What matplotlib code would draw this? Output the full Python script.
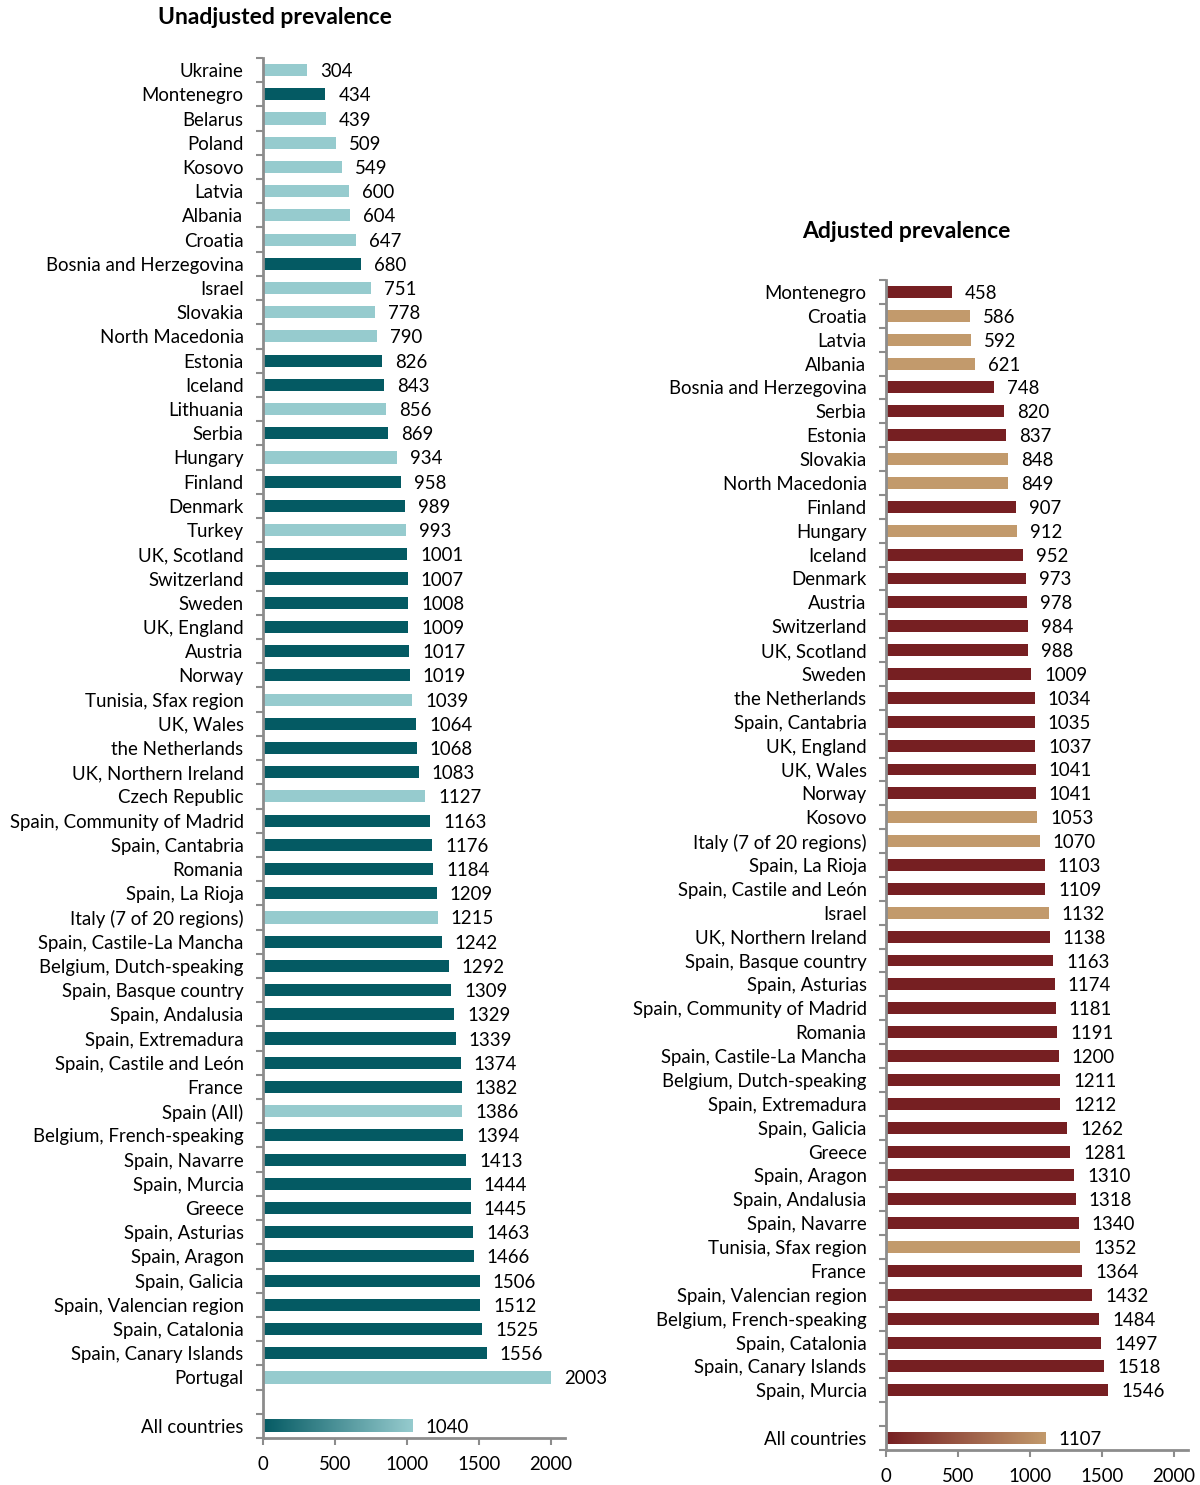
import numpy as np
import matplotlib
matplotlib.use('Agg')
import matplotlib.pyplot as plt
from matplotlib.colors import LinearSegmentedColormap
from matplotlib.ticker import FixedLocator

plt.rcParams['font.family'] = ['Lato', 'DejaVu Sans']

# unadjusted prevalence (left panel)
unadj_names = ['Ukraine', 'Montenegro', 'Belarus', 'Poland', 'Kosovo', 'Latvia', 'Albania', 'Croatia',
               'Bosnia and Herzegovina', 'Israel', 'Slovakia', 'North Macedonia', 'Estonia', 'Iceland',
               'Lithuania', 'Serbia', 'Hungary', 'Finland', 'Denmark', 'Turkey', 'UK, Scotland',
               'Switzerland', 'Sweden', 'UK, England', 'Austria', 'Norway', 'Tunisia, Sfax region',
               'UK, Wales', 'the Netherlands', 'UK, Northern Ireland', 'Czech Republic',
               'Spain, Community of Madrid', 'Spain, Cantabria', 'Romania', 'Spain, La Rioja',
               'Italy (7 of 20 regions)', 'Spain, Castile-La Mancha', 'Belgium, Dutch-speaking',
               'Spain, Basque country', 'Spain, Andalusia', 'Spain, Extremadura', 'Spain, Castile and León',
               'France', 'Spain (All)', 'Belgium, French-speaking', 'Spain, Navarre', 'Spain, Murcia',
               'Greece', 'Spain, Asturias', 'Spain, Aragon', 'Spain, Galicia', 'Spain, Valencian region',
               'Spain, Catalonia', 'Spain, Canary Islands', 'Portugal']
unadj_vals = [304, 434, 439, 509, 549, 600, 604, 647, 680, 751, 778, 790, 826, 843, 856, 869, 934, 958,
              989, 993, 1001, 1007, 1008, 1009, 1017, 1019, 1039, 1064, 1068, 1083, 1127, 1163, 1176,
              1184, 1209, 1215, 1242, 1292, 1309, 1329, 1339, 1374, 1382, 1386, 1394, 1413, 1444, 1445,
              1463, 1466, 1506, 1512, 1525, 1556, 2003]
# 1 = dark bar, 0 = light bar
unadj_dark = [0, 1, 0, 0, 0, 0, 0, 0, 1, 0, 0, 0, 1, 1, 0, 1, 0, 1, 1, 0, 1, 1, 1, 1, 1, 1, 0, 1, 1, 1,
              0, 1, 1, 1, 1, 0, 1, 1, 1, 1, 1, 1, 1, 0, 1, 1, 1, 1, 1, 1, 1, 1, 1, 1, 0]
unadj_all = 1040

# adjusted prevalence (right panel)
adj_names = ['Montenegro', 'Croatia', 'Latvia', 'Albania', 'Bosnia and Herzegovina', 'Serbia', 'Estonia',
             'Slovakia', 'North Macedonia', 'Finland', 'Hungary', 'Iceland', 'Denmark', 'Austria',
             'Switzerland', 'UK, Scotland', 'Sweden', 'the Netherlands', 'Spain, Cantabria', 'UK, England',
             'UK, Wales', 'Norway', 'Kosovo', 'Italy (7 of 20 regions)', 'Spain, La Rioja',
             'Spain, Castile and León', 'Israel', 'UK, Northern Ireland', 'Spain, Basque country',
             'Spain, Asturias', 'Spain, Community of Madrid', 'Romania', 'Spain, Castile-La Mancha',
             'Belgium, Dutch-speaking', 'Spain, Extremadura', 'Spain, Galicia', 'Greece', 'Spain, Aragon',
             'Spain, Andalusia', 'Spain, Navarre', 'Tunisia, Sfax region', 'France', 'Spain, Valencian region',
             'Belgium, French-speaking', 'Spain, Catalonia', 'Spain, Canary Islands', 'Spain, Murcia']
adj_vals = [458, 586, 592, 621, 748, 820, 837, 848, 849, 907, 912, 952, 973, 978, 984, 988, 1009, 1034,
            1035, 1037, 1041, 1041, 1053, 1070, 1103, 1109, 1132, 1138, 1163, 1174, 1181, 1191, 1200,
            1211, 1212, 1262, 1281, 1310, 1318, 1340, 1352, 1364, 1432, 1484, 1497, 1518, 1546]
adj_dark = [1, 0, 0, 0, 1, 1, 1, 0, 0, 1, 0, 1, 1, 1, 1, 1, 1, 1, 1, 1, 1, 1, 0, 0, 1, 1, 0, 1, 1, 1,
            1, 1, 1, 1, 1, 1, 1, 1, 1, 1, 0, 1, 1, 1, 1, 1, 1]
adj_all = 1107

TEAL_D, TEAL_L = '#045a63', '#96cbce'
RED_D, RED_L = '#761f22', '#c29a6c'
SPINE = '#8c8c8c'
FS = 13.4


def draw_panel(ax, names, vals, dark, all_val, c_dark, c_light):
    n = len(names)
    ypos = np.arange(n)
    y_all = n + 1
    cols = [c_dark if d else c_light for d in dark]
    ax.barh(ypos, vals, height=0.5, color=cols)
    for y, v in zip(ypos, vals):
        ax.annotate(str(v), (v, y), xytext=(13, 0), textcoords='offset pixels',
                    va='center_baseline', ha='left', fontsize=FS)
    # gradient bar for all countries
    cmap = LinearSegmentedColormap.from_list('g', [c_dark, c_light])
    grad = np.linspace(0, 1, 256).reshape(1, -1)
    ax.imshow(grad, cmap=cmap, aspect='auto', extent=(0, all_val, y_all + 0.25, y_all - 0.25),
              interpolation='bilinear', zorder=2)
    ax.annotate(str(all_val), (all_val, y_all), xytext=(13, 0), textcoords='offset pixels',
                va='center_baseline', ha='left', fontsize=FS)

    ax.set_xlim(0, 2100)
    ax.set_ylim(y_all + 0.5, -0.5)
    ax.set_yticks(list(ypos) + [y_all])
    ax.set_yticklabels(list(names) + ['All countries'], fontsize=FS, va='center_baseline')
    ax.yaxis.set_minor_locator(FixedLocator(np.arange(-0.5, y_all + 1, 1.0)))
    ax.tick_params(axis='y', which='major', length=0, pad=14)
    ax.tick_params(axis='y', which='minor', length=5, width=1.5, color=SPINE, direction='out')
    ax.set_xticks([0, 500, 1000, 1500, 2000])
    ax.tick_params(axis='x', length=5, width=1.5, color=SPINE, labelsize=FS, pad=8)
    for s in ['top', 'right']:
        ax.spines[s].set_visible(False)
    for s in ['left', 'bottom']:
        ax.spines[s].set_color(SPINE)
        ax.spines[s].set_linewidth(2)


fig = plt.figure(figsize=(12, 14.85), dpi=100)
ax1 = fig.add_axes([263 / 1200, 1 - 1438 / 1485, 302 / 1200, 1380 / 1485])
ax2 = fig.add_axes([886 / 1200, 1 - 1450 / 1485, 302 / 1200, 1170 / 1485])

draw_panel(ax1, unadj_names, unadj_vals, unadj_dark, unadj_all, TEAL_D, TEAL_L)
draw_panel(ax2, adj_names, adj_vals, adj_dark, adj_all, RED_D, RED_L)

fig.text(275 / 1200, 1 - 17 / 1485, 'Unadjusted prevalence', ha='center', va='center',
         fontsize=16.5, fontweight='bold')
fig.text(906 / 1200, 1 - 232 / 1485, 'Adjusted prevalence', ha='center', va='center',
         fontsize=16.5, fontweight='bold')

fig.savefig('out.png', dpi=100, facecolor='white')
